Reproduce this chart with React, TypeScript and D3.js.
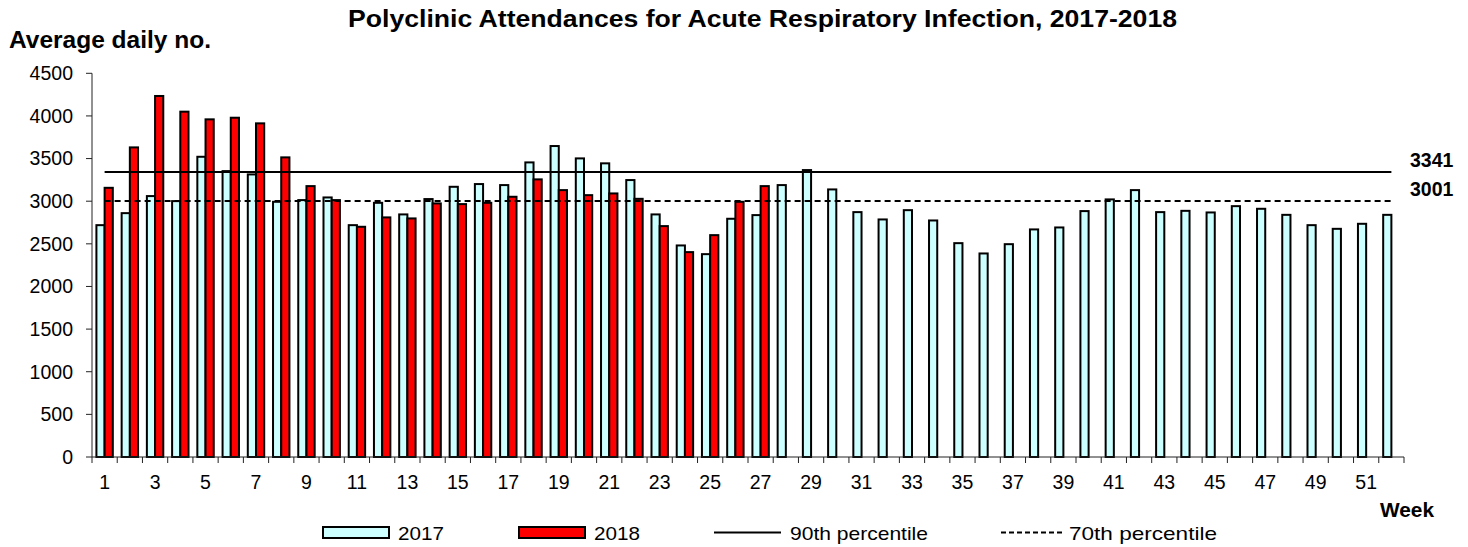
import React from "react";
import * as d3 from "d3";

const weeks: number[] = Array.from({ length: 52 }, (_, i) => i + 1);
const values2017: number[] = [
  2719, 2860, 3060, 3001, 3521, 3353, 3314, 2993, 3013, 3044,
  2719, 2981, 2845, 3025, 3169, 3201, 3189, 3455, 3647, 3502,
  3444, 3248, 2845, 2481, 2379, 2794, 2837, 3189, 3365, 3138,
  2872, 2786, 2895, 2774, 2508, 2387, 2496, 2669, 2692, 2884,
  3021, 3130, 2872, 2887, 2868, 2942, 2911, 2840, 2719, 2676,
  2735, 2840,
];
const values2018: number[] = [
  3157, 3631, 4234, 4050, 3960, 3979, 3913, 3514, 3177, 3013,
  2700, 2810, 2798, 2974, 2966, 2981, 3052, 3256, 3130, 3071,
  3091, 3028, 2708, 2403, 2602, 2993, 3177,
];
const yTicks: number[] = [0, 500, 1000, 1500, 2000, 2500, 3000, 3500, 4000, 4500];
const p90 = 3341;
const p70 = 3001;
const seriesNames: string[] = ["2017", "2018"];
const lineNames: string[] = ["90th percentile", "70th percentile"];
const title = "Polyclinic Attendances for Acute Respiratory Infection, 2017-2018";

const W = 1468;
const H = 547;
const FONT = "'Liberation Sans', Arial, sans-serif";

export default function App() {
  const x = d3.scaleBand<number>().domain(weeks).range([92, 1404]).padding(0);
  const y = d3.scaleLinear().domain([0, 4500]).range([457, 73.3]);
  const bw = x.bandwidth() * 0.325;
  const cx = (w: number) => (x(w) as number) + x.bandwidth() / 2;
  const firstC = cx(weeks[0]);
  const lastC = cx(weeks[weeks.length - 1]);

  return (
    <svg
      width={W}
      height={H}
      style={{ position: "absolute", left: 0, top: 0, background: "#fff" }}
      fontFamily={FONT}
    >
      <text x={348} y={27} fontSize={23} fontWeight="bold" textLength={829} lengthAdjust="spacingAndGlyphs">
        {title}
      </text>
      <text x={9} y={48} fontSize={23} fontWeight="bold" textLength={202} lengthAdjust="spacingAndGlyphs">
        Average daily no.
      </text>

      {/* y axis */}
      <line x1={92} x2={92} y1={y(4500)} y2={y(0)} stroke="#222" strokeWidth={1} />
      {yTicks.map((t) => (
        <g key={t}>
          <line x1={86} x2={92} y1={y(t)} y2={y(t)} stroke="#222" />
          <text x={73} y={y(t)} dy="0.35em" textAnchor="end" fontSize={19.5}>
            {t}
          </text>
        </g>
      ))}

      {/* bars */}
      {values2017.map((v, i) => (
        <rect
          key={"a" + i}
          x={cx(weeks[i]) - bw}
          y={y(v)}
          width={bw}
          height={y(0) - y(v)}
          fill="#ccffff"
          stroke="#000"
          strokeWidth={2}
        />
      ))}
      {values2018.map((v, i) => (
        <rect
          key={"b" + i}
          x={cx(weeks[i])}
          y={y(v)}
          width={bw}
          height={y(0) - y(v)}
          fill="#ff0000"
          stroke="#000"
          strokeWidth={2}
        />
      ))}

      {/* x axis */}
      <line x1={92} x2={1404} y1={y(0)} y2={y(0)} stroke="#222" />
      {weeks.map((w) => (
        <line
          key={"t" + w}
          x1={(x(w) as number) + x.bandwidth()}
          x2={(x(w) as number) + x.bandwidth()}
          y1={y(0)}
          y2={y(0) + 6}
          stroke="#222"
        />
      ))}
      <line x1={92} x2={92} y1={y(0)} y2={y(0) + 6} stroke="#222" />
      {weeks
        .filter((w) => w % 2 === 1)
        .map((w) => (
          <text key={"l" + w} x={cx(w)} y={489} textAnchor="middle" fontSize={19.5}>
            {w}
          </text>
        ))}
      <text x={1380} y={517} fontSize={20.5} fontWeight="bold" textLength={54} lengthAdjust="spacingAndGlyphs">
        Week
      </text>

      {/* percentile lines */}
      <line x1={firstC} x2={lastC} y1={y(p90)} y2={y(p90)} stroke="#000" strokeWidth={2} />
      <line
        x1={firstC}
        x2={lastC}
        y1={y(p70)}
        y2={y(p70)}
        stroke="#000"
        strokeWidth={2}
        strokeDasharray="6,4"
      />
      <text x={1410} y={167} fontSize={19.5} fontWeight="bold">
        {p90}
      </text>
      <text x={1410} y={196} fontSize={19.5} fontWeight="bold">
        {p70}
      </text>

      {/* legend */}
      <rect x={323} y={527} width={66} height={11} fill="#ccffff" stroke="#000" strokeWidth={2} />
      <text x={398} y={540} fontSize={19} textLength={46} lengthAdjust="spacingAndGlyphs">
        {seriesNames[0]}
      </text>
      <rect x={519} y={527} width={66} height={11} fill="#ff0000" stroke="#000" strokeWidth={2} />
      <text x={594} y={540} fontSize={19} textLength={46} lengthAdjust="spacingAndGlyphs">
        {seriesNames[1]}
      </text>
      <line x1={714} x2={781} y1={532.5} y2={532.5} stroke="#000" strokeWidth={2} />
      <text x={790} y={540} fontSize={19} textLength={138} lengthAdjust="spacingAndGlyphs">
        {lineNames[0]}
      </text>
      <line x1={1001} x2={1062} y1={532.5} y2={532.5} stroke="#000" strokeWidth={2} strokeDasharray="5,3" />
      <text x={1069} y={540} fontSize={19} textLength={148} lengthAdjust="spacingAndGlyphs">
        {lineNames[1]}
      </text>
    </svg>
  );
}
